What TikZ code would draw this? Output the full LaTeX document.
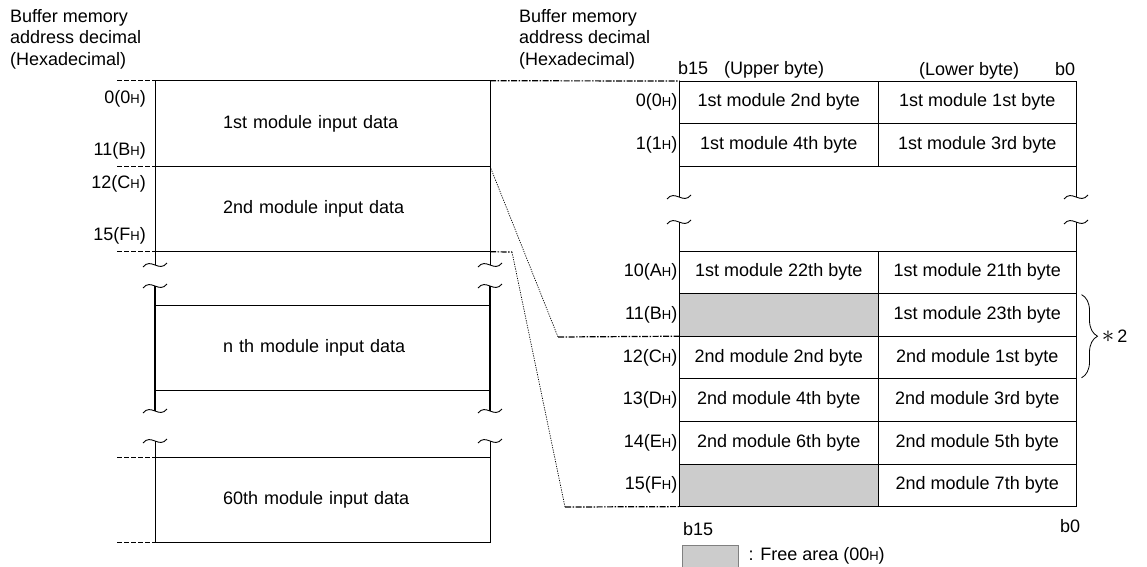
\documentclass[tikz,border=0pt]{standalone}
\usepackage{fontspec}
\setmainfont{Liberation Sans}
\usepackage{tikz}
\usetikzlibrary{positioning,decorations.pathreplacing}
\definecolor{freegray}{HTML}{CCCCCC}
\newcommand\hexH{{\fontsize{13}{13}\selectfont H}}

\begin{document}
\begin{tikzpicture}[x=1pt,y=-1pt,font=\fontsize{18}{21.6}\selectfont,
modbox/.style={draw,line width=0.8pt,outer sep=0pt,inner xsep=68pt,inner ysep=0pt,text width=199pt,align=left,minimum height=85.5pt},
cell/.style={draw,line width=1pt,outer sep=0pt,inner sep=0pt,minimum width=198.5pt,minimum height=42.6pt},
free/.style={cell,fill=freegray},
addr/.style={inner sep=1pt},
head/.style={align=left,inner sep=0pt,anchor=north west},
lbl/.style={inner sep=0pt,anchor=base west},
addrtick/.style={dash pattern=on 5pt off 2pt,line width=0.9pt},
link/.style={line width=1.2pt,dash pattern=on 6pt off 1.5pt on 1.5pt off 1.5pt},
slantline/.style={line width=0.7pt,dash pattern=on 1.2pt off 1.2pt},
brkline/.style={line width=1.8pt}]
\useasboundingbox (0,0) rectangle (1147,566);
% headers
\node[head] (hl) at (10,9) {Buffer memory\\address decimal\\(Hexadecimal)};
\node[head] (hr) at (519,9) {Buffer memory\\address decimal\\(Hexadecimal)};
% left memory map
\node[modbox] (m1) at (322.5,123.5) {1st module input data};
\node[modbox,below=0pt of m1] (m2) {2nd module input data};
\node[modbox] (mn) at (322.5,348) {n th module input data};
\node[modbox] (m60) at (322.5,500) {60th module input data};
\node[addr,anchor=east] (a0) at (147,99) {0(0\hexH)};
\node[addr,anchor=east] (a11) at (147,151) {11(B\hexH)};
\node[addr,anchor=east] (a12) at (147,184) {12(C\hexH)};
\node[addr,anchor=east] (a15) at (147,236) {15(F\hexH)};
\draw[addrtick] ([xshift=-38pt]m1.north west) -- (m1.north west);
\draw[addrtick] ([xshift=-38pt]m1.south west) -- (m1.south west);
\draw[addrtick] ([xshift=-38pt]m2.south west) -- (m2.south west);
\draw[addrtick] ([xshift=-38pt]m60.north west) -- (m60.north west);
\draw[addrtick] ([xshift=-38pt]m60.south west) -- (m60.south west);
\draw[line width=0.8pt] (m2.south west) -- ++(0,13); \draw[line width=0.8pt] (m2.south east) -- ++(0,13);
\draw[brkline] ([yshift=19pt]mn.north west) -- ([yshift=-20pt]mn.south west);
\draw[brkline] ([yshift=19pt]mn.north east) -- ([yshift=-20pt]mn.south east);
\draw[line width=0.8pt] (m60.north west) -- ++(0,-16); \draw[line width=0.8pt] (m60.north east) -- ++(0,-16);
% right word table
\node[lbl] (b15t) at (678,74) {b15};
\node[lbl] (upper) at (724,74) {(Upper byte)};
\node[lbl] (lower) at (919,75) {(Lower byte)};
\node[lbl] (b0t) at (1055,75) {b0};
\node[cell] (u0) at (778.75,102.3) {1st module 2nd byte};
\node[cell,right=0pt of u0] (l0) {1st module 1st byte};
\node[cell,below=0pt of u0] (u1) {1st module 4th byte};
\node[cell,right=0pt of u1] (l1) {1st module 3rd byte};
\node[cell] (u10) at (778.75,272.3) {1st module 22th byte};
\node[cell,right=0pt of u10] (l10) {1st module 21th byte};
\node[free,below=0pt of u10] (u11) {};
\node[cell,right=0pt of u11] (l11) {1st module 23th byte};
\node[cell,below=0pt of u11] (u12) {2nd module 2nd byte};
\node[cell,right=0pt of u12] (l12) {2nd module 1st byte};
\node[cell,below=0pt of u12] (u13) {2nd module 4th byte};
\node[cell,right=0pt of u13] (l13) {2nd module 3rd byte};
\node[cell,below=0pt of u13] (u14) {2nd module 6th byte};
\node[cell,right=0pt of u14] (l14) {2nd module 5th byte};
\node[free,below=0pt of u14] (u15) {};
\node[cell,right=0pt of u15] (l15) {2nd module 7th byte};
\node[addr,left=1pt of u0] (r0) {0(0\hexH)};
\node[addr,left=1pt of u1] (r1) {1(1\hexH)};
\node[addr,left=1pt of u10] (r10) {10(A\hexH)};
\node[addr,left=1pt of u11] (r11) {11(B\hexH)};
\node[addr,left=1pt of u12] (r12) {12(C\hexH)};
\node[addr,left=1pt of u13] (r13) {13(D\hexH)};
\node[addr,left=1pt of u14] (r14) {14(E\hexH)};
\node[addr,left=1pt of u15] (r15) {15(F\hexH)};
\draw[line width=1pt] (u1.south west) -- ++(0,31); \draw[line width=1pt] (u10.north west) -- ++(0,-29);
\draw[line width=1.3pt] (l1.south east) -- ++(0,31); \draw[line width=1.3pt] (l10.north east) -- ++(0,-29);
\node[lbl] (b15b) at (683,535) {b15};
\node[lbl] (b0b) at (1060,532) {b0};
% break marks
\foreach \tx/\ty in {155/265,155/286,155/411,155/441,490/265,490/286,490/411,490/441,679/197,679/222,1076/197,1076/222}
  \draw[line width=0.9pt,shift={(\tx,\ty)}] (-12,2) .. controls (-4,-8) and (4,8) .. (12,-2);
% address links
\coordinate (k1) at (558,337);
\coordinate (k2) at (512,252);
\coordinate (k3) at (565,507);
\draw[link] (m1.north east) -- (u0.north west);
\draw[slantline] (m2.north east) -- (k1); \draw[link] (k1) -- (u11.south west);
\draw[link] (m2.south east) -- (k2); \draw[slantline] (k2) -- (k3); \draw[link] (k3) -- (u15.south west);
% note brace
\draw[decorate,decoration={brace,amplitude=16pt},line width=0.8pt] ([xshift=5pt,yshift=-1pt]l11.north east) -- ([xshift=5pt,yshift=1pt]l12.south east) node[midway,right=20pt,inner sep=0pt] (note) {{\fontsize{30}{30}\selectfont$\ast$}\,2};
% legend
\node[draw=gray,fill=freegray,minimum width=56pt,minimum height=22pt,inner sep=0pt,anchor=north west] (key) at (682,545) {};
\node[right=10pt of key,inner sep=0pt] (keytxt) {: Free area (00\hexH)};
\end{tikzpicture}
\end{document}
